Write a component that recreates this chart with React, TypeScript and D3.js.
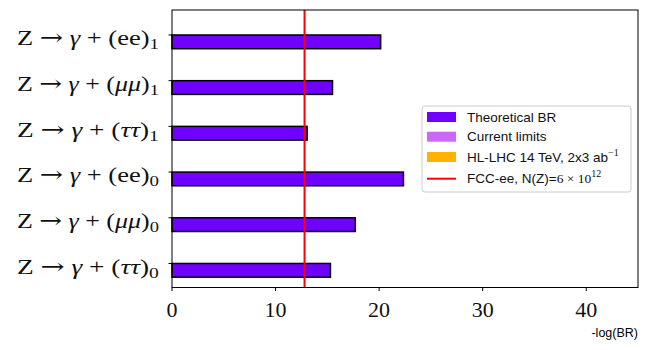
import React, {useRef, useEffect} from 'react';
import * as d3 from 'd3';

// 衰变道（从上到下）
const channels = ['ee', 'μμ', 'ττ', 'ee', 'μμ', 'ττ'];
const channelIndex = ['1', '1', '1', '0', '0', '0'];
// -log(BR) 理论值
const theoryValues = [20.15, 15.5, 13.05, 22.35, 17.7, 15.3];
// FCC-ee 灵敏度
const fccLimit = 12.8;
const xTicks = [0, 10, 20, 30, 40];
const legendNames = ['Theoretical BR', 'Current limits', 'HL-LHC 14 TeV, 2x3 ab', 'FCC-ee, N(Z)='];
const legendColors = ['#7000ff', '#cc66ff', '#ffb300', '#ff0000'];

export default function App() {
  const ref = useRef<HTMLDivElement>(null);

  useEffect(() => {
    const ele = ref.current;
    if (!ele) return;
    d3.select(ele).selectAll('*').remove();
    const w = 648;
    const h = 350;
    const left = 172, right = 638, top = 10, bottom = 287.5;

    const svg = d3.select(ele)
      .append('svg')
      .attr('width', w)
      .attr('height', h)
      .style('position', 'absolute')
      .style('left', 0)
      .style('top', 0);

    const x = d3.scaleLinear().domain([0, 45]).range([left, right]);
    const n = channels.length;
    const y = d3.scaleLinear().domain([-0.526, 5.547]).range([bottom, top]);
    const pos = (i: number) => n - 1 - i;

    // 柱子
    svg.append('g')
      .selectAll('rect')
      .data(theoryValues)
      .enter()
      .append('rect')
      .attr('x', x(0))
      .attr('y', (d, i) => y(pos(i)))
      .attr('width', d => x(d) - x(0))
      .attr('height', (d, i) => y(pos(i) - 0.3) - y(pos(i)))
      .attr('fill', legendColors[0])
      .attr('stroke', '#000')
      .attr('stroke-width', 1.5);

    // FCC-ee 竖线
    svg.append('line')
      .attr('x1', x(fccLimit))
      .attr('x2', x(fccLimit))
      .attr('y1', top)
      .attr('y2', bottom)
      .attr('stroke', legendColors[3])
      .attr('stroke-width', 2);

    // 边框
    svg.append('rect')
      .attr('x', left)
      .attr('y', top)
      .attr('width', right - left)
      .attr('height', bottom - top)
      .attr('fill', 'none')
      .attr('stroke', '#000')
      .attr('stroke-width', 1);

    // x 轴
    const xAxis = svg.append('g').attr('transform', `translate(0,${bottom})`);
    xTicks.forEach(t => {
      xAxis.append('line')
        .attr('x1', x(t)).attr('x2', x(t))
        .attr('y1', 0).attr('y2', 3.5)
        .attr('stroke', '#000');
      xAxis.append('text')
        .attr('x', x(t))
        .attr('y', 29.5)
        .attr('text-anchor', 'middle')
        .attr('font-family', 'Liberation Serif')
        .attr('font-size', '22px')
        .attr('fill', '#111')
        .text(t);
    });

    svg.append('text')
      .attr('x', right)
      .attr('y', 337)
      .attr('text-anchor', 'end')
      .attr('font-family', 'Liberation Sans')
      .attr('font-size', '12.5px')
      .text('-log(BR)');

    // y 轴标签（按宽度横向拉伸到 142px，右端对齐 159）
    channels.forEach((c, i) => {
      const ty = y(pos(i));
      svg.append('line')
        .attr('x1', left - 3.5).attr('x2', left)
        .attr('y1', ty).attr('y2', ty)
        .attr('stroke', '#000');
      const t = svg.append('text')
        .attr('x', 0)
        .attr('y', 0)
        .attr('font-family', 'Liberation Serif')
        .attr('font-size', '21px')
        .attr('fill', '#111');
      t.append('tspan').text('Z ');
      t.append('tspan').attr('font-family', 'DejaVu Serif').attr('font-size', '22px').text('→');
      t.append('tspan').text(' ');
      t.append('tspan').attr('font-style', 'italic').text('γ');
      t.append('tspan').text(' + (');
      t.append('tspan').attr('font-style', c === 'ee' ? 'normal' : 'italic').text(c);
      t.append('tspan').text(')');
      t.append('tspan').attr('font-size', '15px').attr('dy', 4).text(channelIndex[i]);
      const bb = (t.node() as SVGTextElement).getBBox();
      const k = 142 / bb.width;
      t.attr('transform', `translate(${159 - 142 - bb.x * k},${ty + 10.3}) scale(${k},1)`);
    });

    // 图例
    const lg = svg.append('g').attr('transform', 'translate(422,106)');
    lg.append('rect')
      .attr('width', 209)
      .attr('height', 86)
      .attr('rx', 3)
      .attr('fill', '#fff')
      .attr('stroke', '#ccc');
    const rowY = [11, 30.7, 51, 72.7];
    legendNames.forEach((name, i) => {
      if (i < 3) {
        lg.append('rect')
          .attr('x', 5).attr('y', rowY[i] - 5)
          .attr('width', 29).attr('height', 10)
          .attr('fill', legendColors[i]);
      } else {
        lg.append('line')
          .attr('x1', 5).attr('x2', 34)
          .attr('y1', rowY[i]).attr('y2', rowY[i])
          .attr('stroke', legendColors[i])
          .attr('stroke-width', 2);
      }
      const t = lg.append('text')
        .attr('x', 45)
        .attr('y', rowY[i] + 4.5)
        .attr('font-family', 'Liberation Sans')
        .attr('font-size', '13.5px')
        .attr('fill', '#111')
        .text(name);
      if (i === 2) {
        t.append('tspan').attr('font-family', 'Liberation Serif').attr('font-size', '10px').attr('dy', -6).text('−1');
      }
      if (i === 3) {
        t.append('tspan').attr('font-family', 'Liberation Serif').text('6 × 10');
        t.append('tspan').attr('font-family', 'Liberation Serif').attr('font-size', '10px').attr('dy', -6).text('12');
      }
    });
  }, []);

  return <div ref={ref}></div>;
}
